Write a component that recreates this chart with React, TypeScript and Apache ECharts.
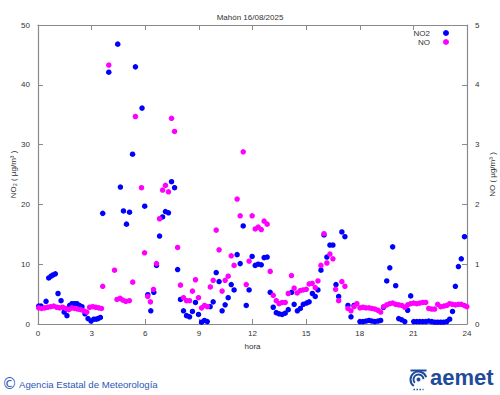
import React, { useEffect, useRef } from "react";
import * as echarts from "echarts";

const titleText = "Mahón 16/08/2025";
const xTickStep = 3;

// NO2 (left axis, µg/m3) — hour of day and value
const no2Hours = [
  0.04, 0.17, 0.45, 0.6, 0.73, 0.84, 0.97, 1.12, 1.29, 1.46,
  1.62, 1.77, 1.9, 2.04, 2.18, 2.32, 2.46, 2.63, 2.8, 2.97,
  3.12, 3.25, 3.36, 3.49, 3.62, 3.96, 4.46, 4.61, 4.78, 4.95,
  5.12, 5.29, 5.45, 5.82, 5.97, 6.14, 6.31, 6.48, 6.63, 6.8,
  6.97, 7.13, 7.3, 7.47, 7.64, 7.81, 7.97, 8.14, 8.31, 8.48,
  8.64, 8.81, 8.98, 9.15, 9.31, 9.47, 9.63, 9.8, 9.97, 10.13,
  10.3, 10.47, 10.64, 10.81, 10.97, 11.14, 11.31, 11.48, 11.65, 11.81,
  11.98, 12.15, 12.32, 12.49, 12.65, 12.82, 12.99, 13.16, 13.33, 13.49,
  13.66, 13.83, 14.0, 14.19, 14.33, 14.51, 14.68, 14.84, 15.02, 15.17,
  15.35, 15.51, 15.66, 15.83, 16.0, 16.16, 16.33, 16.5, 16.67, 16.82,
  17.0, 17.17, 17.34, 17.51, 17.68, 18.01, 18.18, 18.35, 18.52, 18.68,
  18.85, 19.02, 19.17, 19.33, 19.51, 19.68, 19.84, 20.01, 20.18, 20.35,
  20.52, 20.68, 20.85, 21.02, 21.19, 21.35, 21.52, 21.69, 21.86, 22.03,
  22.19, 22.36, 22.53, 22.7, 22.87, 23.03, 23.19, 23.35, 23.52, 23.68,
  23.86,
];
const no2Values = [
  3.0, 3.0, 3.8, 7.7, 8.0, 8.2, 8.4, 5.1, 3.9, 2.0,
  1.4, 3.1, 3.4, 3.4, 3.4, 3.1, 2.9, 1.7, 0.9, 0.5,
  0.8, 0.8, 0.9, 1.1, 18.5, 42.1, 46.8, 22.9, 18.9, 16.7,
  18.7, 28.4, 43.0, 36.1, 19.7, 4.9, 2.2, 5.3, 9.8, 14.7,
  17.9, 18.8, 18.6, 23.8, 22.8, 9.1, 4.1, 2.2, 1.4, 1.2,
  2.1, 3.6, 1.6, 0.3, 0.6, 0.4, 2.9, 3.7, 8.6, 7.1,
  2.2, 3.2, 4.4, 6.6, 5.7, 11.6, 10.1, 16.4, 3.1, 5.7,
  11.3, 9.8, 10.0, 9.9, 11.1, 11.2, 5.3, 2.8, 1.9, 1.7,
  1.6, 1.8, 2.4, 5.3, 3.3, 2.2, 2.6, 3.3, 3.5, 3.7,
  5.1, 4.6, 5.7, 9.0, 14.9, 11.2, 13.2, 13.2, 6.6, 4.6,
  15.4, 14.6, 3.1, 1.2, 3.1, 0.4, 0.4, 0.5, 0.6, 0.5,
  0.4, 0.5, 0.6, 2.8, 7.2, 9.4, 12.9, 6.4, 0.9, 0.7,
  0.4, 2.3, 4.7, 0.4, 0.4, 0.4, 0.4, 0.4, 0.5, 0.4,
  0.3, 0.3, 0.3, 0.3, 0.4, 0.8, 2.1, 6.3, 9.6, 10.9,
  14.6,
];

// NO (right axis, µg/m3)
const noHours = [
  0.04, 0.21, 0.38, 0.54, 0.71, 0.88, 1.05, 1.21, 1.38, 1.55,
  1.72, 1.89, 2.05, 2.22, 2.39, 2.56, 2.73, 2.89, 3.06, 3.23,
  3.4, 3.55, 3.62, 3.96, 4.28, 4.42, 4.59, 4.74, 4.91, 5.11,
  5.3, 5.45, 5.79, 5.96, 6.14, 6.29, 6.46, 6.63, 6.8, 6.97,
  7.13, 7.3, 7.47, 7.64, 7.81, 7.97, 8.14, 8.31, 8.48, 8.64,
  8.81, 8.98, 9.15, 9.32, 9.47, 9.64, 9.8, 9.97, 10.13, 10.3,
  10.47, 10.64, 10.81, 10.97, 11.14, 11.31, 11.48, 11.65, 11.81, 11.98,
  12.15, 12.32, 12.49, 12.65, 12.82, 12.99, 13.16, 13.33, 13.49, 13.66,
  13.83, 14.0, 14.18, 14.33, 14.5, 14.67, 14.84, 15.01, 15.17, 15.34,
  15.51, 15.66, 15.83, 16.0, 16.16, 16.33, 16.5, 16.65, 16.82, 17.0,
  17.17, 17.34, 17.51, 17.68, 17.84, 18.01, 18.18, 18.35, 18.52, 18.68,
  18.85, 19.02, 19.17, 19.34, 19.51, 19.68, 19.84, 20.01, 20.18, 20.35,
  20.52, 20.68, 20.85, 21.02, 21.19, 21.35, 21.52, 21.69, 21.86, 22.03,
  22.19, 22.36, 22.53, 22.7, 22.87, 23.03, 23.19, 23.35, 23.52, 23.68,
  23.85, 23.99,
];
const noValues = [
  0.27, 0.26, 0.27, 0.28, 0.29, 0.3, 0.28, 0.27, 0.28, 0.26,
  0.24, 0.27, 0.26, 0.25, 0.24, 0.22, 0.2, 0.28, 0.29, 0.28,
  0.27, 0.26, 0.63, 4.33, 0.9, 0.41, 0.43, 0.4, 0.38, 0.39,
  0.7, 3.47, 2.28, 1.19, 0.46, 0.37, 0.58, 1.01, 1.76, 2.24,
  2.32, 2.21, 3.44, 3.22, 1.28, 0.65, 0.44, 0.39, 0.39, 0.55,
  0.74, 0.44, 0.27, 0.31, 0.29, 0.62, 0.73, 1.57, 1.24, 0.55,
  0.73, 0.8, 1.14, 0.98, 2.09, 1.81, 2.88, 0.66, 1.05, 1.81,
  1.59, 1.62, 1.58, 1.72, 1.67, 0.88, 0.48, 0.39, 0.34, 0.36,
  0.36, 0.51, 0.81, 0.6, 0.52, 0.56, 0.57, 0.58, 0.67, 0.68,
  0.61, 0.72, 0.98, 1.51, 1.02, 1.17, 1.09, 0.58, 0.39, 0.71,
  0.63, 0.26, 0.22, 0.29, 0.34, 0.27, 0.28, 0.27, 0.27, 0.26,
  0.25, 0.23, 0.2, 0.29, 0.32, 0.34, 0.35, 0.33, 0.32, 0.31,
  0.28, 0.32, 0.34, 0.35, 0.34, 0.35, 0.36, 0.36, 0.26, 0.25,
  0.25, 0.33, 0.29, 0.3, 0.31, 0.34, 0.33, 0.32, 0.33, 0.33,
  0.31, 0.29,
];

const FONT = "'Liberation Sans', Arial, sans-serif";
const AXIS_COLOR = "#8a8a8a";
const TEXT_COLOR = "#333333";
const FS = 8;

export default function App() {
  const ref = useRef<HTMLDivElement>(null);

  useEffect(() => {
    if (!ref.current) return;
    const chart = echarts.init(ref.current, null, { renderer: "svg" });

    const no2Data = no2Hours.map((h, i) => [h, no2Values[i]]);
    const noData = noHours.map((h, i) => [h, noValues[i]]);

    const baseAxis = {
      axisLine: { show: true, onZero: false, lineStyle: { color: AXIS_COLOR, width: 1.2 } },
      axisTick: { show: true, inside: true, length: 5, lineStyle: { color: AXIS_COLOR, width: 1 } },
      splitLine: { show: false },
      axisLabel: { color: TEXT_COLOR, fontSize: FS, fontFamily: FONT },
      nameTextStyle: { color: TEXT_COLOR, fontSize: FS, fontFamily: FONT },
      nameMoveOverlap: false,
    };

    const legendBase = {
      orient: "vertical",
      align: "right",
      right: 51,
      padding: 0,
      itemWidth: 22,
      itemHeight: 6,
      icon: "circle",
      textStyle: { fontSize: FS, lineHeight: 8, color: TEXT_COLOR, fontFamily: FONT },
    };

    chart.setOption({
      animation: false,
      backgroundColor: "#ffffff",
      textStyle: { fontFamily: FONT },
      title: {
        text: titleText,
        left: "center",
        top: 8,
        textStyle: { fontSize: FS, fontWeight: "normal", color: TEXT_COLOR, fontFamily: FONT },
      },
      legend: [
        { ...legendBase, data: ["NO2"], top: 29 },
        { ...legendBase, data: ["NO"], top: 38 },
      ],
      grid: { left: 38, right: 33, top: 25, bottom: 71, containLabel: false, outerBoundsMode: "none" },
      xAxis: [
        {
          ...baseAxis,
          type: "value",
          min: 0,
          max: 24,
          interval: xTickStep,
          position: "bottom",
          axisLabel: { ...baseAxis.axisLabel, margin: 5 },
          name: "hora",
          nameLocation: "middle",
          nameGap: 18,
        },
        {
          ...baseAxis,
          type: "value",
          min: 0,
          max: 24,
          interval: xTickStep,
          position: "top",
          axisLabel: { show: false },
        },
      ],
      yAxis: [
        {
          ...baseAxis,
          type: "value",
          min: 0,
          max: 50,
          interval: 10,
          position: "left",
          axisLabel: { ...baseAxis.axisLabel, margin: 8 },
          name: "NO₂ ( µg/m³ )",
          nameLocation: "middle",
          nameRotate: 90,
          nameGap: 21,
        },
        {
          ...baseAxis,
          type: "value",
          min: 0,
          max: 5,
          interval: 1,
          position: "right",
          axisLabel: { ...baseAxis.axisLabel, margin: 8 },
          name: "NO ( µg/m³ )",
          nameLocation: "middle",
          nameRotate: 90,
          nameGap: 21,
        },
      ],
      series: [
        {
          name: "NO2",
          type: "scatter",
          xAxisIndex: 0,
          yAxisIndex: 0,
          symbol: "circle",
          symbolSize: 5.5,
          itemStyle: { color: "#0000ff", opacity: 1 },
          data: no2Data,
        },
        {
          name: "NO",
          type: "scatter",
          xAxisIndex: 0,
          yAxisIndex: 1,
          symbol: "circle",
          symbolSize: 5.5,
          itemStyle: { color: "#ff00ff", opacity: 1 },
          data: noData,
        },
      ],
      graphic: [
        {
          type: "text",
          left: 2,
          top: 376,
          style: { text: "©", fontSize: 15, fill: "#2f56b5", fontFamily: "'DejaVu Sans', sans-serif" },
        },
        {
          type: "text",
          left: 19,
          top: 379,
          style: {
            text: "Agencia Estatal de Meteorología",
            fontSize: 9.6,
            fill: "#2f56b5",
            fontFamily: FONT,
          },
        },
        {
          type: "group",
          left: 408,
          top: 368,
          children: [
            { type: "arc", shape: { cx: 9, cy: 10, r: 8, startAngle: 2.2, endAngle: 6.0 }, style: { stroke: "#1f4c9a", lineWidth: 2, fill: "none" } },
            { type: "arc", shape: { cx: 9, cy: 10, r: 5, startAngle: 2.4, endAngle: 6.2 }, style: { stroke: "#1f4c9a", lineWidth: 2, fill: "none" } },
            { type: "circle", shape: { cx: 9, cy: 10, r: 2 }, style: { fill: "#1f4c9a" } },
            { type: "line", shape: { x1: 1, y1: 1, x2: 17, y2: 1 }, style: { stroke: "#1f4c9a", lineWidth: 2 } },
            { type: "line", shape: { x1: 4, y1: 20, x2: 14, y2: 20 }, style: { stroke: "#1f4c9a", lineWidth: 1.5, lineDash: [1.5, 1.5] } },
          ],
        },
        {
          type: "text",
          left: 430,
          top: 366,
          style: {
            text: "aemet",
            fontSize: 22,
            fontWeight: "bold",
            fill: "#1f4c9a",
            fontFamily: FONT,
          },
        },
      ],
    });

    return () => chart.dispose();
  }, []);

  return (
    <div
      ref={ref}
      style={{ position: "fixed", left: 0, top: 0, width: 500, height: 395, background: "#fff" }}
    />
  );
}
